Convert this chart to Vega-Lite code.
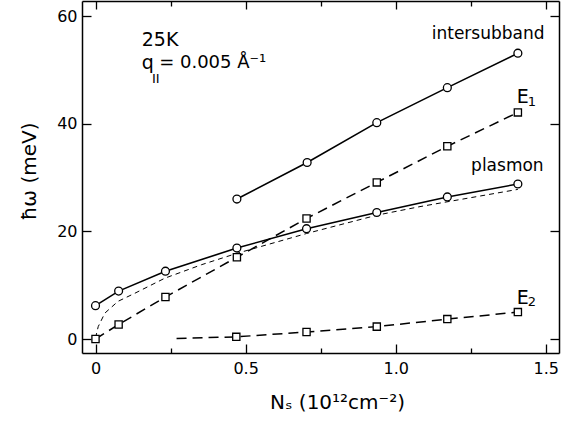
{
  "$schema": "https://vega.github.io/schema/vega-lite/v6.json",
  "width": 477,
  "height": 352,
  "autosize": {"type": "none"},
  "padding": {"left": 82, "top": 1, "right": 2, "bottom": 68},
  "background": "white",
  "config": {
    "view": {"stroke": null},
    "font": "DejaVu Sans",
    "axis": {"domainColor": "black", "domainWidth": 1.5, "tickColor": "black", "tickWidth": 1.3, "labelColor": "black", "titleColor": "black", "labelFont": "DejaVu Sans", "titleFont": "DejaVu Sans", "grid": false}
  },
  "datasets": {
    "curves": [
      {"series": "intersubband", "x": 0.471, "y": 26.0, "marker": "circle"},
      {"series": "intersubband", "x": 0.705, "y": 32.8, "marker": "circle"},
      {"series": "intersubband", "x": 0.937, "y": 40.2, "marker": "circle"},
      {"series": "intersubband", "x": 1.172, "y": 46.7, "marker": "circle"},
      {"series": "intersubband", "x": 1.407, "y": 53.1, "marker": "circle"},
      {"series": "E1", "x": 0.0, "y": 0.0, "marker": "square"},
      {"series": "E1", "x": 0.077, "y": 2.7, "marker": "square"},
      {"series": "E1", "x": 0.233, "y": 7.8, "marker": "square"},
      {"series": "E1", "x": 0.471, "y": 15.2, "marker": "square"},
      {"series": "E1", "x": 0.703, "y": 22.4, "marker": "square"},
      {"series": "E1", "x": 0.937, "y": 29.1, "marker": "square"},
      {"series": "E1", "x": 1.172, "y": 35.8, "marker": "square"},
      {"series": "E1", "x": 1.407, "y": 42.1, "marker": "square"},
      {"series": "plasmon", "x": 0.0, "y": 6.2, "marker": "circle"},
      {"series": "plasmon", "x": 0.077, "y": 8.9, "marker": "circle"},
      {"series": "plasmon", "x": 0.233, "y": 12.6, "marker": "circle"},
      {"series": "plasmon", "x": 0.471, "y": 16.9, "marker": "circle"},
      {"series": "plasmon", "x": 0.703, "y": 20.5, "marker": "circle"},
      {"series": "plasmon", "x": 0.937, "y": 23.5, "marker": "circle"},
      {"series": "plasmon", "x": 1.172, "y": 26.4, "marker": "circle"},
      {"series": "plasmon", "x": 1.407, "y": 28.8, "marker": "circle"},
      {"series": "E2", "x": 0.27, "y": 0.1, "marker": "none"},
      {"series": "E2", "x": 0.469, "y": 0.4, "marker": "square"},
      {"series": "E2", "x": 0.703, "y": 1.3, "marker": "square"},
      {"series": "E2", "x": 0.937, "y": 2.3, "marker": "square"},
      {"series": "E2", "x": 1.172, "y": 3.7, "marker": "square"},
      {"series": "E2", "x": 1.407, "y": 5.0, "marker": "square"},
      {"series": "theory", "x": 0.0, "y": 0.2, "marker": "none"},
      {"series": "theory", "x": 0.009, "y": 2.3, "marker": "none"},
      {"series": "theory", "x": 0.031, "y": 4.8, "marker": "none"},
      {"series": "theory", "x": 0.075, "y": 7.0, "marker": "none"},
      {"series": "theory", "x": 0.131, "y": 8.5, "marker": "none"},
      {"series": "theory", "x": 0.231, "y": 11.3, "marker": "none"},
      {"series": "theory", "x": 0.353, "y": 13.8, "marker": "none"},
      {"series": "theory", "x": 0.47, "y": 15.9, "marker": "none"},
      {"series": "theory", "x": 0.703, "y": 19.6, "marker": "none"},
      {"series": "theory", "x": 0.937, "y": 23.0, "marker": "none"},
      {"series": "theory", "x": 1.081, "y": 24.6, "marker": "none"},
      {"series": "theory", "x": 1.407, "y": 27.8, "marker": "none"}
    ],
    "notes": [
      {"text": "25K", "x": 0.154, "y": 55.6, "align": "left", "size": 19},
      {"text": "q", "x": 0.154, "y": 51.2, "align": "left", "size": 19},
      {"text": "II", "x": 0.188, "y": 48.4, "align": "left", "size": 13},
      {"text": "= 0.005 Å⁻¹", "x": 0.212, "y": 51.2, "align": "left", "size": 18},
      {"text": "intersubband", "x": 1.308, "y": 56.7, "align": "center", "size": 17},
      {"text": "E", "x": 1.403, "y": 45.0, "align": "left", "size": 19},
      {"text": "1", "x": 1.44, "y": 44.0, "align": "left", "size": 13},
      {"text": "plasmon", "x": 1.372, "y": 32.1, "align": "center", "size": 17},
      {"text": "E", "x": 1.403, "y": 7.7, "align": "left", "size": 19},
      {"text": "2", "x": 1.44, "y": 6.8, "align": "left", "size": 13}
    ]
  },
  "layer": [
    {
      "data": {"name": "curves"},
      "encoding": {
        "x": {
          "field": "x", "type": "quantitative",
          "scale": {"domain": [-0.045, 1.544], "nice": false, "zero": false},
          "axis": {
            "orient": "bottom",
            "values": [0, 0.25, 0.5, 0.75, 1.0, 1.25, 1.5],
            "labelExpr": "datum.value == 0 ? '0' : (datum.value % 0.5 == 0 ? format(datum.value, '.1f') : '')",
            "tickSize": {"condition": {"test": "datum.value % 0.5 == 0", "value": -9}, "value": -5},
            "labelFontSize": 16,
            "labelPadding": 16,
            "title": "Nₛ (10¹²cm⁻²)",
            "titleFontSize": 20,
            "titleFontWeight": "normal",
            "titleX": 255,
            "titleY": 55,
            "titleAlign": "center",
            "titleBaseline": "alphabetic"
          }
        },
        "y": {
          "field": "y", "type": "quantitative",
          "scale": {"domain": [-2.6, 62.8], "nice": false, "zero": false},
          "axis": {
            "orient": "left",
            "values": [0, 20, 40, 60],
            "tickSize": -9,
            "labelFontSize": 16,
            "labelPadding": 14,
            "title": "ħω (meV)",
            "titleFontSize": 20,
            "titleFontWeight": "normal",
            "titleX": -47,
            "titleY": 170,
            "titleAlign": "center",
            "titleBaseline": "alphabetic",
            "titleAngle": -90
          }
        }
      },
      "layer": [
        {
          "transform": [{"filter": "datum.series == 'intersubband' || datum.series == 'plasmon'"}],
          "mark": {"type": "line", "color": "black", "strokeWidth": 1.6},
          "encoding": {"detail": {"field": "series"}}
        },
        {
          "transform": [{"filter": "datum.series == 'E1' || datum.series == 'E2'"}],
          "mark": {"type": "line", "color": "black", "strokeWidth": 1.5, "strokeDash": [10, 6]},
          "encoding": {"detail": {"field": "series"}}
        },
        {
          "transform": [{"filter": "datum.series == 'theory'"}],
          "mark": {"type": "line", "color": "black", "strokeWidth": 1, "strokeDash": [5, 4]},
          "encoding": {"detail": {"field": "series"}}
        },
        {
          "transform": [{"filter": "datum.marker == 'circle'"}],
          "mark": {"type": "point", "shape": "circle", "size": 62, "filled": false, "fill": "white", "fillOpacity": 1, "stroke": "black", "strokeWidth": 1.3, "opacity": 1},
          "encoding": {}
        },
        {
          "transform": [{"filter": "datum.marker == 'square'"}],
          "mark": {"type": "point", "shape": "square", "size": 52, "filled": false, "fill": "white", "fillOpacity": 1, "stroke": "black", "strokeWidth": 1.3, "opacity": 1},
          "encoding": {}
        },
        {
          "data": {"name": "notes"},
          "transform": [{"filter": "datum.align == 'left'"}],
          "mark": {"type": "text", "color": "black", "baseline": "middle", "align": "left", "font": "DejaVu Sans"},
          "encoding": {
            "text": {"field": "text"},
            "size": {"field": "size", "type": "quantitative", "scale": null}
          }
        },
        {
          "data": {"name": "notes"},
          "transform": [{"filter": "datum.align == 'center'"}],
          "mark": {"type": "text", "color": "black", "baseline": "middle", "align": "center", "font": "DejaVu Sans"},
          "encoding": {
            "text": {"field": "text"},
            "size": {"field": "size", "type": "quantitative", "scale": null}
          }
        }
      ]
    },
    {
      "data": {"name": "curves"},
      "mark": {"type": "point", "opacity": 0},
      "encoding": {
        "x": {
          "field": "x", "type": "quantitative",
          "axis": {
            "orient": "top",
            "values": [0, 0.25, 0.5, 0.75, 1.0, 1.25, 1.5],
            "labels": false,
            "tickSize": {"condition": {"test": "datum.value % 0.5 == 0", "value": -8}, "value": -5},
            "title": null
          }
        },
        "y": {
          "field": "y", "type": "quantitative",
          "axis": {
            "orient": "right",
            "values": [0, 20, 40, 60],
            "labels": false,
            "tickSize": -9,
            "title": null
          }
        }
      }
    }
  ],
  "resolve": {"axis": {"x": "independent", "y": "independent"}}
}
